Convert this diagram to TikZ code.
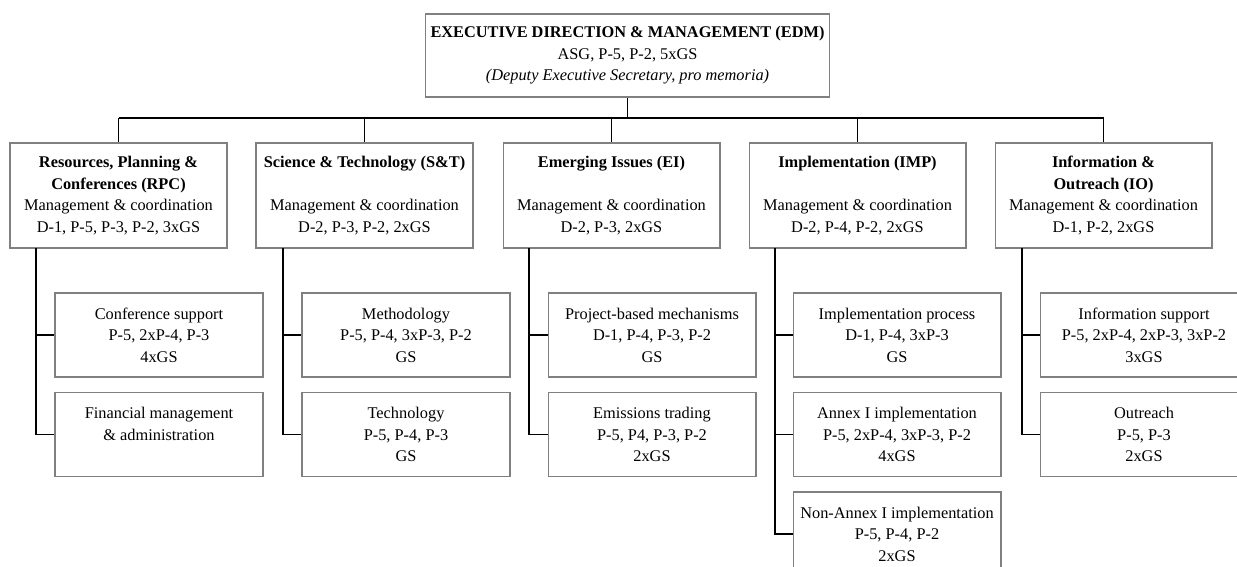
\documentclass[tikz,border=0pt]{standalone}
\usepackage{fontspec}
\setmainfont{Liberation Serif}
\begin{document}
\begin{tikzpicture}[
    x=0.02cm, y=-0.02cm,
    every node/.style={font=\fontsize{9.3}{12.2}\selectfont, align=center, inner sep=0pt},
    boss/.style={draw=gray, line width=0.6pt, minimum width=8.1cm, minimum height=1.66cm},
    unit/.style={draw=gray, line width=0.6pt, minimum width=4.34cm, minimum height=2.1cm},
    sub/.style={draw=gray, line width=0.6pt, minimum width=4.16cm, minimum height=1.68cm},
    link/.style={black, line width=0.8pt}
]
    \clip (0,0) rectangle (1237,567);

    % --- TOP ---
    \node[boss] (edm) at (627.5, 55.5) {\textbf{EXECUTIVE DIRECTION \& MANAGEMENT (EDM)}\\
        ASG, P-5, P-2, 5xGS\\
        \textit{(Deputy Executive Secretary, pro memoria)}};

    \coordinate (bus) at (0, 118);

    % --- DIVISIONS ---
    \node[unit] (rpc) at (118.5, 195.5) {\textbf{Resources, Planning \&}\\\textbf{Conferences (RPC)}\\
        Management \& coordination\\D-1, P-5, P-3, P-2, 3xGS};
    \node[unit] (st) at (364.5, 195.5) {\textbf{Science \& Technology (S\&T)}\\[12.2pt]
        Management \& coordination\\D-2, P-3, P-2, 2xGS};
    \node[unit] (ei) at (611.5, 195.5) {\textbf{Emerging Issues (EI)}\\[12.2pt]
        Management \& coordination\\D-2, P-3, 2xGS};
    \node[unit] (imp) at (857.5, 195.5) {\textbf{Implementation (IMP)}\\[12.2pt]
        Management \& coordination\\D-2, P-4, P-2, 2xGS};
    \node[unit] (io) at (1103.5, 195.5) {\textbf{Information \&}\\\textbf{Outreach (IO)}\\
        Management \& coordination\\D-1, P-2, 2xGS};

    % bus and stubs
    \draw[link] (edm.south) -- (edm.south |- bus);
    \draw[link] (rpc.north |- bus) -- (io.north |- bus);
    \draw[link] (rpc.north |- bus) -- (rpc.north);
    \draw[link] (st.north |- bus) -- (st.north);
    \draw[link] (ei.north |- bus) -- (ei.north);
    \draw[link] (imp.north |- bus) -- (imp.north);
    \draw[link] (io.north |- bus) -- (io.north);

    % --- SECTIONS ---
    \node[sub] (conf) at (159, 335) {Conference support\\P-5, 2xP-4, P-3\\4xGS};
    \node[sub] (fin) at (159, 434.5) {Financial management\\\& administration\\\mbox{}};

    \node[sub] (meth) at (406, 335) {Methodology\\P-5, P-4, 3xP-3, P-2\\GS};
    \node[sub] (tech) at (406, 434.5) {Technology\\P-5, P-4, P-3\\GS};

    \node[sub] (pbm) at (652, 335) {Project-based mechanisms\\D-1, P-4, P-3, P-2\\GS};
    \node[sub] (emis) at (652, 434.5) {Emissions trading\\P-5, P4, P-3, P-2\\2xGS};

    \node[sub] (proc) at (897, 335) {Implementation process\\D-1, P-4, 3xP-3\\GS};
    \node[sub] (annex) at (897, 434.5) {Annex I implementation\\P-5, 2xP-4, 3xP-3, P-2\\4xGS};
    \node[sub] (nonannex) at (897, 534) {Non-Annex I implementation\\P-5, P-4, P-2\\2xGS};

    \node[sub] (info) at (1144, 335) {Information support\\P-5, 2xP-4, 2xP-3, 3xP-2\\3xGS};
    \node[sub] (outr) at (1144, 434.5) {Outreach\\P-5, P-3\\2xGS};

    % drop lines
    \coordinate (rpc-v) at (36, 248);
    \coordinate (st-v) at (283, 248);
    \coordinate (ei-v) at (529, 248);
    \coordinate (imp-v) at (775, 248);
    \coordinate (io-v) at (1022, 248);

    \draw[link] (rpc-v) |- (conf.west);
    \draw[link] (rpc-v) |- (fin.west);
    \draw[link] (st-v) |- (meth.west);
    \draw[link] (st-v) |- (tech.west);
    \draw[link] (ei-v) |- (pbm.west);
    \draw[link] (ei-v) |- (emis.west);
    \draw[link] (imp-v) |- (proc.west);
    \draw[link] (imp-v) |- (annex.west);
    \draw[link] (imp-v) |- (nonannex.west);
    \draw[link] (io-v) |- (info.west);
    \draw[link] (io-v) |- (outr.west);

\end{tikzpicture}
\end{document}
